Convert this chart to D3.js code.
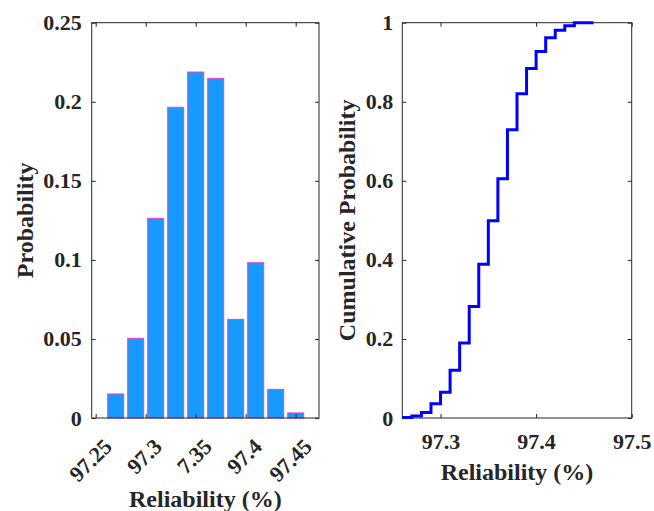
<!DOCTYPE html>
<html>
<head>
    <meta charset="utf-8">
    <style>
        body { margin: 0; background: #fff; }
        text { font-family: "Liberation Serif", "Times New Roman", serif; font-weight: bold; fill: #262626; }
    </style>
</head>
<body>
    <script src="https://cdn.jsdelivr.net/npm/d3@7"></script>
    <script>
        // histogram (left)
        var binCenters = [97.27, 97.29, 97.31, 97.33, 97.35, 97.37, 97.39, 97.41, 97.43, 97.45];
        var binProbs = [0.0152, 0.0504, 0.1263, 0.1965, 0.2188, 0.2148, 0.0624, 0.0982, 0.0181, 0.0032];
        var histTicks = [97.25, 97.3, 97.35, 97.4, 97.45];
        var histTickLabels = ["97.25", "97.3", "7.35", "97.4", "97.45"];
        var probTicks = [0, 0.05, 0.1, 0.15, 0.2, 0.25];

        // empirical cdf (right)
        var cdfX = [97.26, 97.27, 97.28, 97.29, 97.30, 97.31, 97.32, 97.33, 97.34, 97.35,
                    97.36, 97.37, 97.38, 97.39, 97.40, 97.41, 97.42, 97.43, 97.44, 97.46];
        var cdfY = [0.001, 0.005, 0.014, 0.036, 0.065, 0.121, 0.19, 0.282, 0.389, 0.499,
                    0.605, 0.729, 0.82, 0.884, 0.927, 0.962, 0.981, 0.992, 1.0, 1.0];
        var cdfXTicks = [97.3, 97.4, 97.5];
        var cdfYTicks = [0, 0.2, 0.4, 0.6, 0.8, 1];

        var width = 654, height = 511;
        var tickLen = 4;
        var axisColor = '#262626';

        var svg = d3.select('body')
            .append('svg')
            .attr('width', width)
            .attr('height', height);

        var left = { x0: 91.7, x1: 319, y0: 22.7, y1: 418 };
        var right = { x0: 402.3, x1: 631.7, y0: 22.7, y1: 418 };

        var xHist = d3.scaleLinear().domain([97.246, 97.4733]).range([left.x0, left.x1]);
        var yHist = d3.scaleLinear().domain([0, 0.25]).range([left.y1, left.y0]);
        var xCdf = d3.scaleLinear().domain([97.26, 97.5]).range([right.x0, right.x1]);
        var yCdf = d3.scaleLinear().domain([0, 1]).range([right.y1, right.y0]);

        function styleAxis(g) {
            g.select('.domain').remove();
            g.selectAll('.tick line').attr('stroke', axisColor).attr('stroke-width', 1);
            g.selectAll('.tick text')
                .attr('font-family', '"Liberation Serif", serif')
                .attr('font-weight', 'bold')
                .attr('font-size', 22)
                .attr('fill', axisColor);
        }

        function drawBox(box) {
            svg.append('rect')
                .attr('x', box.x0).attr('y', box.y0)
                .attr('width', box.x1 - box.x0).attr('height', box.y1 - box.y0)
                .attr('fill', 'none')
                .attr('stroke', axisColor)
                .attr('stroke-width', 1);
        }

        // ---- left: histogram bars
        var barW = xHist(97.266) - xHist(97.25);
        svg.append('g').selectAll('rect')
            .data(binCenters)
            .enter()
            .append('rect')
            .attr('x', function (d) { return xHist(d) - barW / 2; })
            .attr('y', function (d, i) { return yHist(binProbs[i]); })
            .attr('width', barW)
            .attr('height', function (d, i) { return yHist(0) - yHist(binProbs[i]); })
            .attr('fill', '#1799FD')
            .attr('stroke', '#F23CC4')
            .attr('stroke-width', 1);

        // bottom ticks with rotated labels
        var hxAxis = svg.append('g')
            .attr('transform', 'translate(0,' + left.y1 + ')')
            .call(d3.axisBottom(xHist).tickValues(histTicks)
                .tickFormat(function (d, i) { return histTickLabels[i]; })
                .tickSize(-tickLen).tickPadding(0));
        styleAxis(hxAxis);
        hxAxis.selectAll('.tick text')
            .attr('text-anchor', 'end')
            .attr('y', 0).attr('dy', '0.71em')
            .attr('transform', 'translate(6,19) rotate(-45)');

        var hxTop = svg.append('g')
            .attr('transform', 'translate(0,' + left.y0 + ')')
            .call(d3.axisTop(xHist).tickValues(histTicks).tickFormat('').tickSize(-tickLen));
        styleAxis(hxTop);

        var hyAxis = svg.append('g')
            .attr('transform', 'translate(' + left.x0 + ',0)')
            .call(d3.axisLeft(yHist).tickValues(probTicks).tickFormat(d3.format('')).tickSize(-tickLen).tickPadding(10));
        styleAxis(hyAxis);

        var hyRight = svg.append('g')
            .attr('transform', 'translate(' + left.x1 + ',0)')
            .call(d3.axisRight(yHist).tickValues(probTicks).tickFormat('').tickSize(-tickLen));
        styleAxis(hyRight);

        drawBox(left);

        svg.append('text')
            .attr('x', (left.x0 + left.x1) / 2).attr('y', 507)
            .attr('text-anchor', 'middle').attr('font-size', 24)
            .text('Reliability (%)');
        svg.append('text')
            .attr('transform', 'translate(33,' + ((left.y0 + left.y1) / 2) + ') rotate(-90)')
            .attr('text-anchor', 'middle').attr('font-size', 24)
            .text('Probability');

        // ---- right: cdf
        var cxAxis = svg.append('g')
            .attr('transform', 'translate(0,' + right.y1 + ')')
            .call(d3.axisBottom(xCdf).tickValues(cdfXTicks).tickFormat(d3.format('')).tickSize(-tickLen).tickPadding(15));
        styleAxis(cxAxis);

        var cxTop = svg.append('g')
            .attr('transform', 'translate(0,' + right.y0 + ')')
            .call(d3.axisTop(xCdf).tickValues(cdfXTicks).tickFormat('').tickSize(-tickLen));
        styleAxis(cxTop);

        var cyAxis = svg.append('g')
            .attr('transform', 'translate(' + right.x0 + ',0)')
            .call(d3.axisLeft(yCdf).tickValues(cdfYTicks).tickFormat(d3.format('')).tickSize(-tickLen).tickPadding(9));
        styleAxis(cyAxis);

        var cyRight = svg.append('g')
            .attr('transform', 'translate(' + right.x1 + ',0)')
            .call(d3.axisRight(yCdf).tickValues(cdfYTicks).tickFormat('').tickSize(-tickLen));
        styleAxis(cyRight);

        drawBox(right);

        var cdfLine = d3.line()
            .x(function (d) { return xCdf(d); })
            .y(function (d, i) { return yCdf(cdfY[i]); })
            .curve(d3.curveStepAfter);

        svg.append('path')
            .datum(cdfX)
            .attr('d', cdfLine)
            .attr('fill', 'none')
            .attr('stroke', '#0000FF')
            .attr('stroke-width', 3);

        svg.append('text')
            .attr('x', (right.x0 + right.x1) / 2).attr('y', 480)
            .attr('text-anchor', 'middle').attr('font-size', 24)
            .text('Reliability (%)');
        svg.append('text')
            .attr('transform', 'translate(355,' + ((right.y0 + right.y1) / 2) + ') rotate(-90)')
            .attr('text-anchor', 'middle').attr('font-size', 24)
            .text('Cumulative Probability');
    </script>
</body>
</html>
